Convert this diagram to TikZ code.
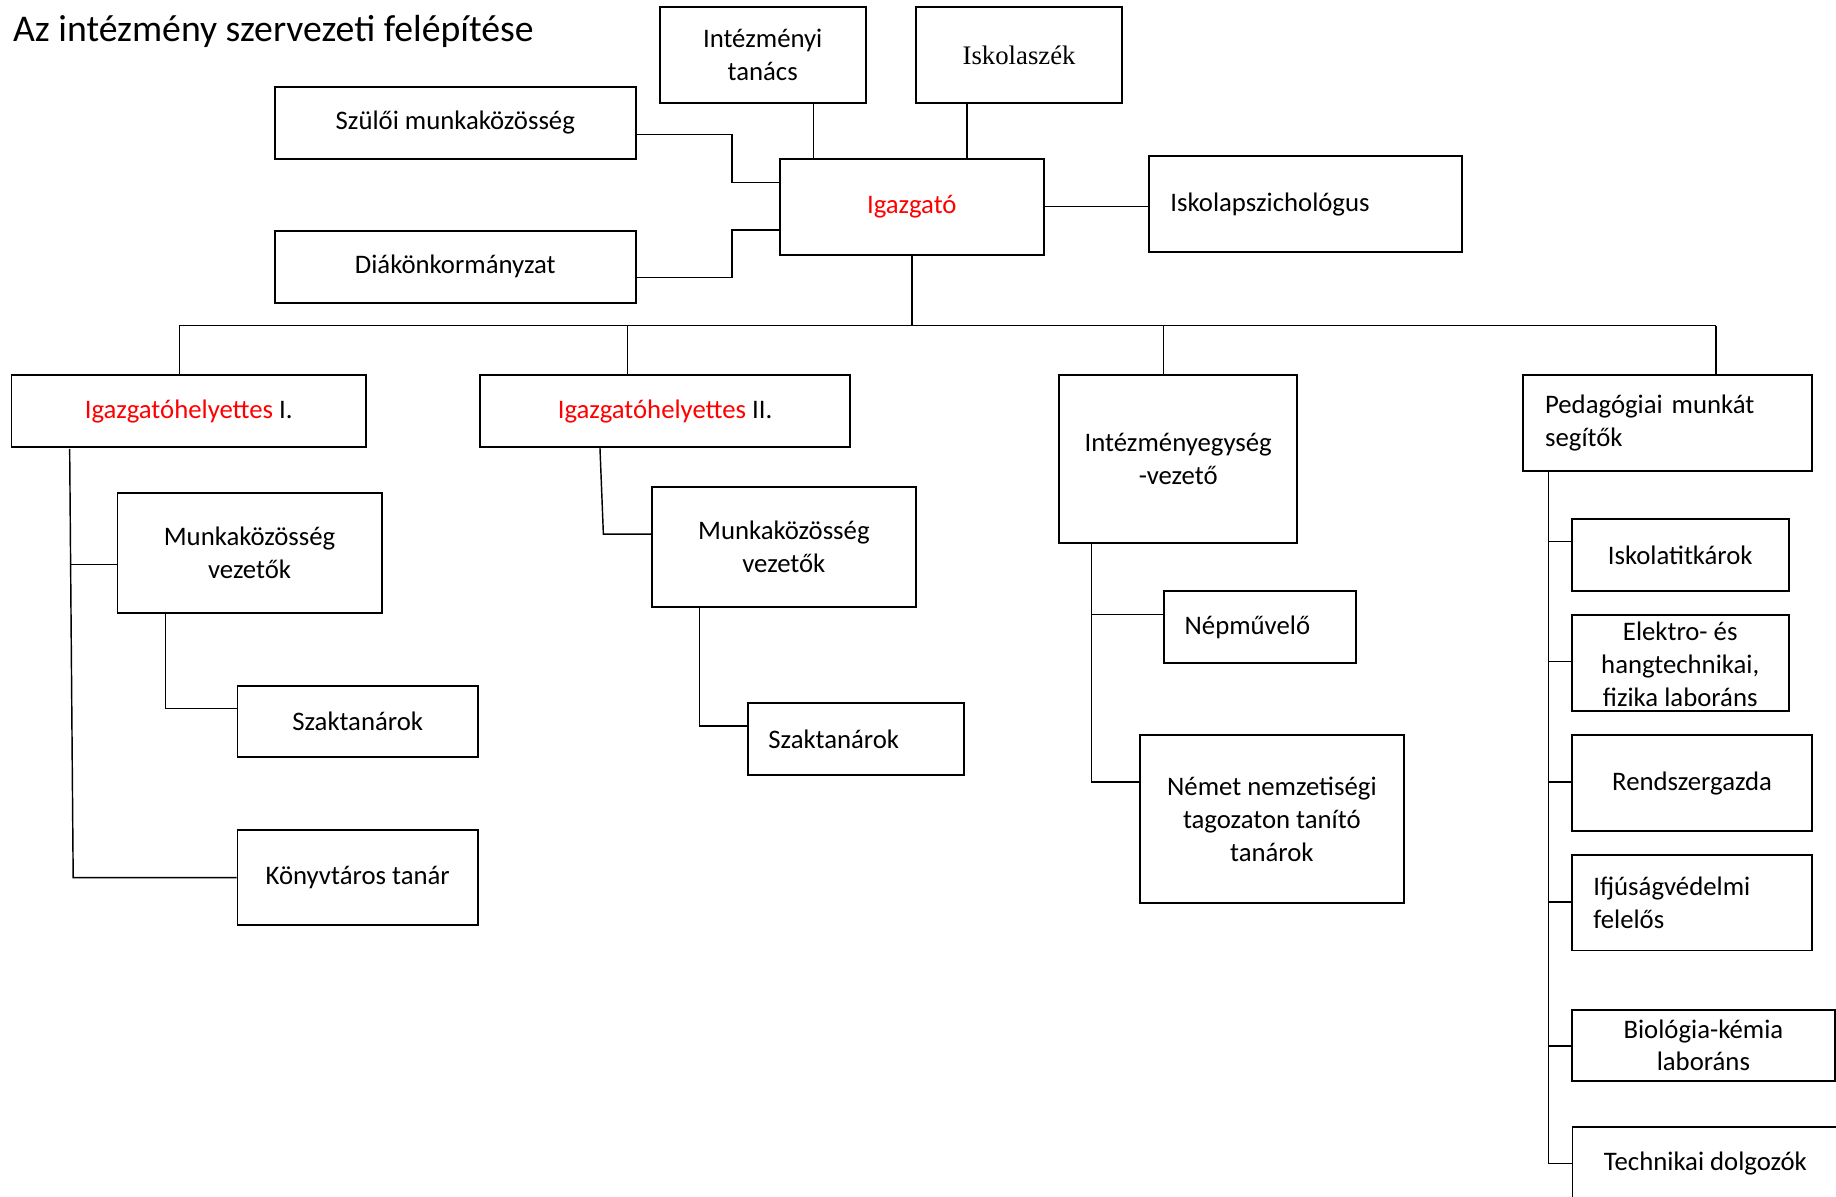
\documentclass[tikz,border=0pt]{standalone}
\usepackage{fontspec}
\setmainfont{Carlito}
\newfontfamily\timesfont{Liberation Serif}
\usetikzlibrary{calc}
\definecolor{headred}{HTML}{FF0000}
\newcommand{\orgfont}{\fontsize{19.5}{24}\selectfont}
\tikzset{
  orgbox/.style={draw, line width=1.35pt, inner sep=0pt, align=center, font=\orgfont},
  leftbox/.style={orgbox, align=left, text width=#1},
  link/.style={line width=1.05pt}
}

\begin{document}
\begin{tikzpicture}[x=0.03cm, y=-0.03cm]
  \useasboundingbox (0,0) rectangle (1568,1022);
  \clip (0,0) rectangle (1568,1022);
  \node[anchor=base west, inner sep=0pt, font=\fontsize{27.5}{32}\selectfont] (title) at (11,35.6) {Az intézmény szervezeti felépítése};

  % vezetés
  \node[orgbox, minimum width=5.283cm, minimum height=2.469cm] (tanacs) at (651.35,46.85) {Intézményi\\tanács};
  \node[orgbox, minimum width=5.271cm, minimum height=2.469cm] (szek) at (870.35,46.85) {\timesfont Iskolaszék};
  \node[orgbox, minimum width=9.249cm, minimum height=1.854cm] (szmk) at (388.85,104.9) {Szülői munkaközösség};
  \node[orgbox, minimum width=6.774cm, minimum height=2.46cm, text=headred] (igazgato) at (778.7,176.8) {Igazgató};
  \node[leftbox=6.93cm, minimum width=8.01cm, minimum height=2.46cm] (pszich) at (1115.1,174.5) {Iskolapszichológus};
  \node[orgbox, minimum width=9.249cm, minimum height=1.854cm] (diak) at (388.85,227.9) {Diákönkormányzat};

  % második szint
  \node[orgbox, minimum width=9.084cm, minimum height=1.857cm] (igh1) at (161.2,351.05) {{\color{headred}Igazgatóhelyettes} I.};
  \node[orgbox, minimum width=9.48cm, minimum height=1.851cm] (igh2) at (568,351.15) {{\color{headred}Igazgatóhelyettes} II.};
  \node[orgbox, minimum width=6.09cm, minimum height=4.299cm] (iegy) at (1006.2,391.95) {Intézményegység\\-vezető};
  \node[leftbox=6.29cm, minimum width=7.404cm, minimum height=2.46cm] (ped) at (1424.4,361.3) {Pedagógiai munkát\\segítők};

  % harmadik szint
  \node[orgbox, minimum width=6.771cm, minimum height=3.069cm] (mkv1) at (213.15,472.35) {Munkaközösség\\vezetők};
  \node[orgbox, minimum width=6.159cm, minimum height=1.839cm] (szak1) at (305.45,616.15) {Szaktanárok};
  \node[orgbox, minimum width=6.159cm, minimum height=2.445cm] (konyv) at (305.45,749.45) {Könyvtáros tanár};
  \node[orgbox, minimum width=6.771cm, minimum height=3.072cm] (mkv2) at (669.45,467.2) {Munkaközösség\\vezetők};
  \node[leftbox=4.48cm, minimum width=5.544cm, minimum height=1.854cm] (szak2) at (730.9,631.3) {Szaktanárok};
  \node[leftbox=3.85cm, minimum width=4.926cm, minimum height=1.842cm] (nepm) at (1075.9,535.4) {Népművelő};
  \node[orgbox, minimum width=6.774cm, minimum height=4.302cm] (nemet) at (1086.2,699.4) {Német nemzetiségi\\tagozaton tanító\\tanárok};
  \node[orgbox, minimum width=5.559cm, minimum height=1.833cm] (titkar) at (1434.95,473.85) {Iskolatitkárok};
  \node[orgbox, minimum width=5.559cm, minimum height=2.448cm, text height=66pt, text depth=3pt] (elektro) at (1434.95,566.2) {Elektro- és\\hangtechnikai,\\fizika laboráns};
  \node[orgbox, minimum width=6.165cm, minimum height=2.448cm] (rendszer) at (1445.05,668.8) {Rendszergazda};
  \node[leftbox=5.06cm, minimum width=6.165cm, minimum height=2.451cm] (ifju) at (1445.05,770.95) {Ifjúságvédelmi\\felelős};
  \node[orgbox, minimum width=6.747cm, minimum height=1.818cm] (bio) at (1454.75,892.7) {Biológia-kémia\\laboráns};
  \node[orgbox, minimum width=6.81cm, minimum height=1.869cm] (tech) at (1456.5,993.85) {Technikai dolgozók};

  % kapcsolatok az igazgatóhoz
  \draw[link] (694.8,0 |- tanacs.south) -- (694.8,0 |- igazgato.north);
  \draw[link] (826,0 |- szek.south) -- (826,0 |- igazgato.north);
  \draw[link] (szmk.east |- 0,114.7) -| (625,155.7) -- (igazgato.west |- 0,155.7);
  \draw[link] (diak.east |- 0,237.1) -| (625,196.4) -- (igazgato.west |- 0,196.4);
  \draw[link] (igazgato.east |- 0,176.2) -- (pszich.west |- 0,176.2);

  % gyűjtővonal
  \coordinate (bus) at (igazgato.south |- 0,278);
  \draw[link] (igazgato.south) -- (bus);
  \draw[link] (153,278) -- (1465.6,278);
  \foreach \n/\x in {igh1/153.1, igh2/535.8, iegy/993.5, ped/1465.6}
    \draw[link] (\x,278) -- (\x,0 |- \n.north);

  % ágak
  \draw[link] (59.5,383.3) -- (62.5,0 |- konyv.west) -- (konyv.west);
  \draw[link] (60.3,482.2) -- (mkv1.west |- 0,482.2);
  \draw[link] (141.2,0 |- mkv1.south) |- (szak1.west |- 0,605.1);
  \draw[link] (512.4,0 |- igh2.south) -- (515.3,456.1) -- (mkv2.west |- 0,456.1);
  \draw[link] (597.3,0 |- mkv2.south) |- (szak2.west |- 0,620);
  \draw[link] (932.3,0 |- iegy.south) |- (nemet.west |- 0,668);
  \draw[link] (932.3,524.6) -- (nepm.west |- 0,524.6);
  \draw[link] (1322.4,0 |- ped.south) |- (tech.west |- 0,993.7);
  \foreach \n/\y in {titkar/462.5, elektro/565.1, rendszer/667.7, ifju/770.3, bio/893.3}
    \draw[link] (1322.4,\y) -- (\n.west |- 0,\y);
\end{tikzpicture}
\end{document}
